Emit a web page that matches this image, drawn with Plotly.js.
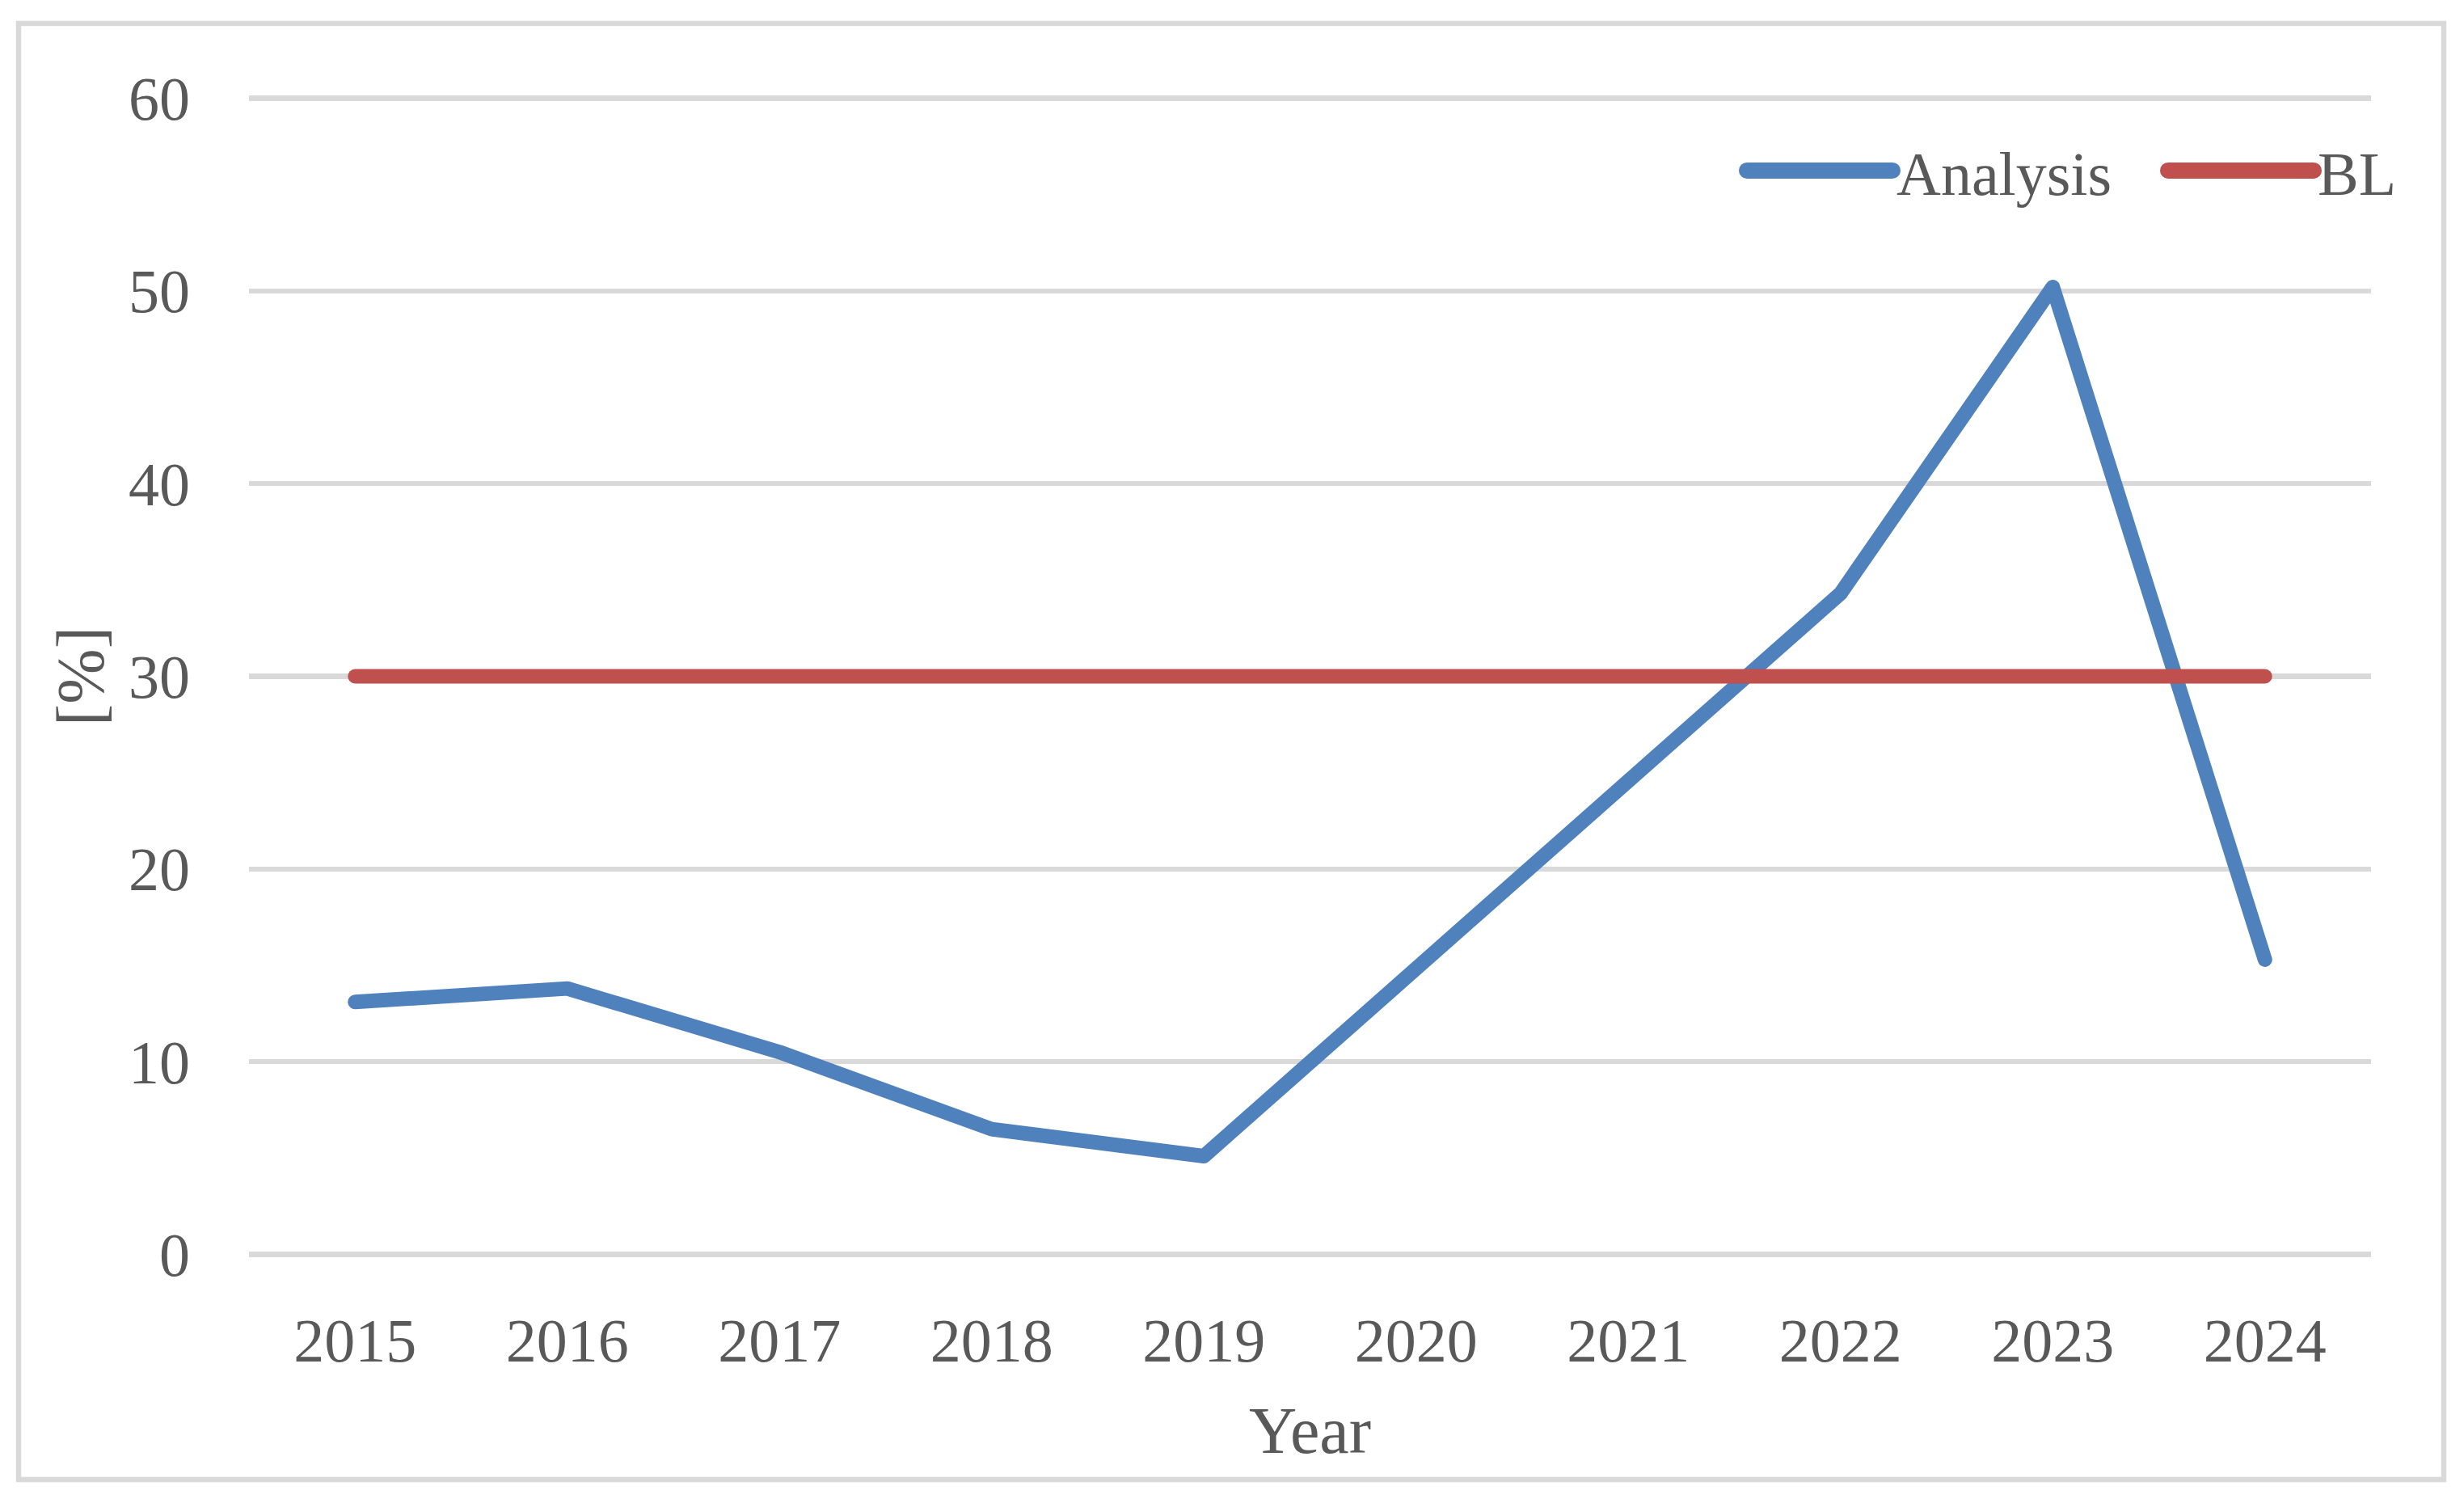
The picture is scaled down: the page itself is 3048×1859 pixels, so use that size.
<!DOCTYPE html>
<html>
<head>
<meta charset="utf-8">
<script src="https://cdn.plot.ly/plotly-3.0.1.min.js"></script>
<style>html,body{margin:0;padding:0;background:#fff;}#chart{width:3048px;height:1859px;}</style>
</head>
<body>
<div id="chart"></div>
<script>
// ---- data ----
const years = ["2015","2016","2017","2018","2019","2020","2021","2022","2023","2024"];
const analysis = [13.1, 13.8, 10.5, 6.5, 5.1, 14.8, 24.6, 34.3, 50.2, 15.3];
const bl = [30, 30, 30, 30, 30, 30, 30, 30, 30, 30];
const seriesNames = ["Analysis", "BL"];
const yTicks = [0, 10, 20, 30, 40, 50, 60];

// ---- layout constants ----
const W = 3048, H = 1859;
const M = {l: 308, r: 115, t: 120, b: 306};
const PW = W - M.l - M.r, PH = H - M.t - M.b;
const px2x = p => (p - M.l) / PW;
const py2y = p => 1 - (p - M.t) / PH;
const FONT = "Liberation Serif, 'Times New Roman', serif";
const TXT = "#595959";

const traces = [
  {x: years, y: analysis, name: seriesNames[0], type: "scatter", mode: "lines",
   line: {color: "#4f81bd", width: 18}},
  {x: years, y: bl, name: seriesNames[1], type: "scatter", mode: "lines",
   line: {color: "#c0504d", width: 18}}
];

const layout = {
  width: W, height: H,
  margin: Object.assign({autoexpand: false}, M),
  paper_bgcolor: "#fff", plot_bgcolor: "#fff",
  font: {family: FONT, color: TXT, size: 76},
  showlegend: true,
  legend: {
    orientation: "h", xref: "paper", yref: "paper",
    x: px2x(2156), xanchor: "left", y: py2y(211), yanchor: "middle",
    font: {family: FONT, size: 76, color: TXT},
    itemwidth: 180, bgcolor: "rgba(0,0,0,0)", entrywidth: 326
  },
  xaxis: {
    type: "category", range: [-0.5, 9.5],
    showgrid: false, zeroline: false, showline: false,
    ticks: "", tickfont: {family: FONT, size: 76, color: TXT},
    ticklabelstandoff: 54,
    title: {text: "Year", font: {family: FONT, size: 82, color: TXT}, standoff: 40}
  },
  yaxis: {
    range: [-0.06, 60.06], tickvals: yTicks, ticktext: yTicks.map(String),
    showgrid: true, gridcolor: "#d9d9d9", gridwidth: 6.5,
    zeroline: false, showline: false, ticks: "",
    tickfont: {family: FONT, size: 76, color: TXT},
    ticklabelstandoff: 72,
    title: {text: "[%]", font: {family: FONT, size: 82, color: TXT}, standoff: 4}
  },
  shapes: [{
    type: "rect", xref: "paper", yref: "paper",
    x0: px2x(23), x1: px2x(3023), y0: py2y(29), y1: py2y(1830),
    line: {color: "#d9d9d9", width: 6.5}, layer: "below"
  }]
};

Plotly.newPlot("chart", traces, layout, {displayModeBar: false, staticPlot: true}).then(function (gd) {
  gd.querySelectorAll(".scatterlayer .js-line").forEach(function (p) {
    p.style.strokeLinecap = "round";
    p.style.strokeLinejoin = "round";
  });
  gd.querySelectorAll(".legend .scrollbox").forEach(function (g) {
    g.removeAttribute("clip-path");
  });
  gd.querySelectorAll(".legend .js-line").forEach(function (p) {
    p.style.strokeWidth = "20px";
    p.style.strokeLinecap = "round";
  });
});
</script>
</body>
</html>
